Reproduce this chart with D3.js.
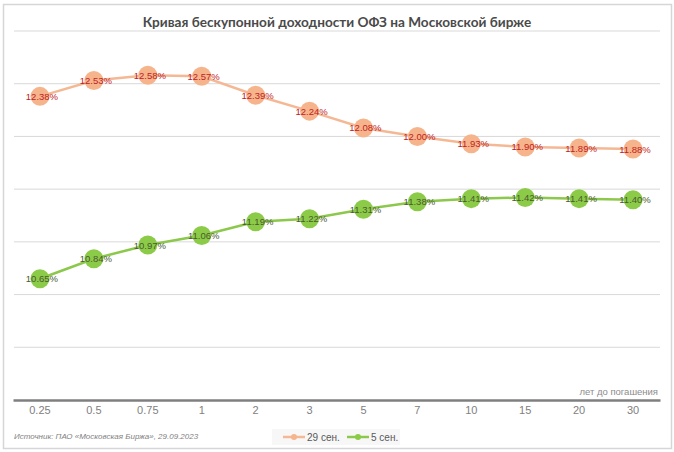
<!DOCTYPE html>
<html><head><meta charset="utf-8">
<script src="https://cdn.jsdelivr.net/npm/d3@7"></script>
<style>body{margin:0;background:#fff}svg{display:block}</style>
</head><body><svg id="c" width="674" height="452"></svg>
<script>
const categories = ["0.25","0.5","0.75","1","2","3","5","7","10","15","20","30"];
const sep29 = [12.38,12.53,12.58,12.57,12.39,12.24,12.08,12.00,11.93,11.90,11.89,11.88];
const sep5 = [10.65,10.84,10.97,11.06,11.19,11.22,11.31,11.38,11.41,11.42,11.41,11.40];
const seriesNames = ["29 сен.","5 сен."];
const yTicks = [9.5,10,10.5,11,11.5,12,12.5,13];
const title = "Кривая бескупонной доходности ОФЗ на Московской бирже";
const xTitle = "лет до погашения";
const source = "Источник: ПАО «Московская Биржа», 29.09.2023";

(function(){
const svg = d3.select("#c");
const pL = 13, pR = 660, pT = 31, pB = 400;

svg.append("rect").attr("x",3.5).attr("y",4.5).attr("width",668).attr("height",444)
  .attr("fill","#fff").attr("stroke","#d6d6d6").attr("stroke-width",1.5);

const x = d3.scaleBand().domain(categories).range([pL,pR]);
const y = d3.scaleLinear().domain([9.5,13]).range([pB,pT]);

svg.append("g").selectAll("line").data(yTicks.slice(1)).join("line")
  .attr("x1",pL+1).attr("x2",pR).attr("y1",d=>y(d)).attr("y2",d=>y(d))
  .attr("stroke","#d9d9d9").attr("stroke-width",1);

svg.append("text").attr("x",337).attr("y",26.5).attr("text-anchor","middle")
  .attr("font-family","Lato, 'Open Sans', sans-serif").attr("font-size",13.6).attr("font-weight",700)
  .attr("fill","#4a4a4a").text(title);

const xAxis = d3.axisBottom(x).tickSize(0).tickPadding(6);
const gx = svg.append("g").attr("transform",`translate(0,${pB})`).call(xAxis);
gx.select(".domain").attr("stroke","#7f7f7f").attr("stroke-width",2.5);
gx.selectAll("text").attr("font-family","'Liberation Sans',Arial,sans-serif")
  .attr("font-size",11).attr("fill","#808080");

svg.append("text").attr("x",658).attr("y",395).attr("text-anchor","end")
  .attr("font-family","'Liberation Sans',Arial,sans-serif")
  .attr("font-size",9.5).attr("fill","#8c8c8c").text(xTitle);

const cx = d => x(d) + x.bandwidth()/2;
const series = [
  {name: seriesNames[0], values: sep29, line:"#f5b894", fill:"#f6b48c", label:"#c0211e"},
  {name: seriesNames[1], values: sep5, line:"#8cc84b", fill:"#8ccb48", label:"#4a5a30"}
];
const line = d3.line().x((d,i)=>cx(categories[i])).y(d=>y(d));
series.forEach(s=>{
  svg.append("path").datum(s.values).attr("d",line).attr("fill","none")
    .attr("stroke",s.line).attr("stroke-width",2.5);
  svg.append("g").selectAll("circle").data(s.values).join("circle")
    .attr("cx",(d,i)=>cx(categories[i])).attr("cy",d=>y(d)).attr("r",9.5).attr("fill",s.fill);
  svg.append("g").selectAll("text").data(s.values).join("text")
    .attr("x",(d,i)=>cx(categories[i])+2).attr("y",d=>y(d)+3.5).attr("text-anchor","middle")
    .attr("font-family","'Liberation Sans',Arial,sans-serif").attr("font-size",9.5)
    .attr("fill",s.label).text(d=>d.toFixed(2)+"%");
});

svg.append("text").attr("x",14).attr("y",439)
  .attr("font-family","'Liberation Sans',Arial,sans-serif").attr("font-size",8).attr("font-style","italic")
  .attr("fill","#7f7f7f").text(source);

svg.append("rect").attr("x",272).attr("y",429).attr("width",128).attr("height",16).attr("fill","#f7f7f7");
const leg = [{x0:283,x1:305,tx:307},{x0:347,x1:369,tx:371}];
series.forEach((s,i)=>{
  const l = leg[i];
  svg.append("line").attr("x1",l.x0).attr("x2",l.x1).attr("y1",437).attr("y2",437)
    .attr("stroke",s.line).attr("stroke-width",2.5);
  svg.append("circle").attr("cx",(l.x0+l.x1)/2).attr("cy",437).attr("r",3).attr("fill",s.fill);
  svg.append("text").attr("x",l.tx).attr("y",440.5)
    .attr("font-family","'Liberation Sans',Arial,sans-serif")
    .attr("font-size",10).attr("fill","#595959").text(s.name);
});
})();
</script></body></html>
